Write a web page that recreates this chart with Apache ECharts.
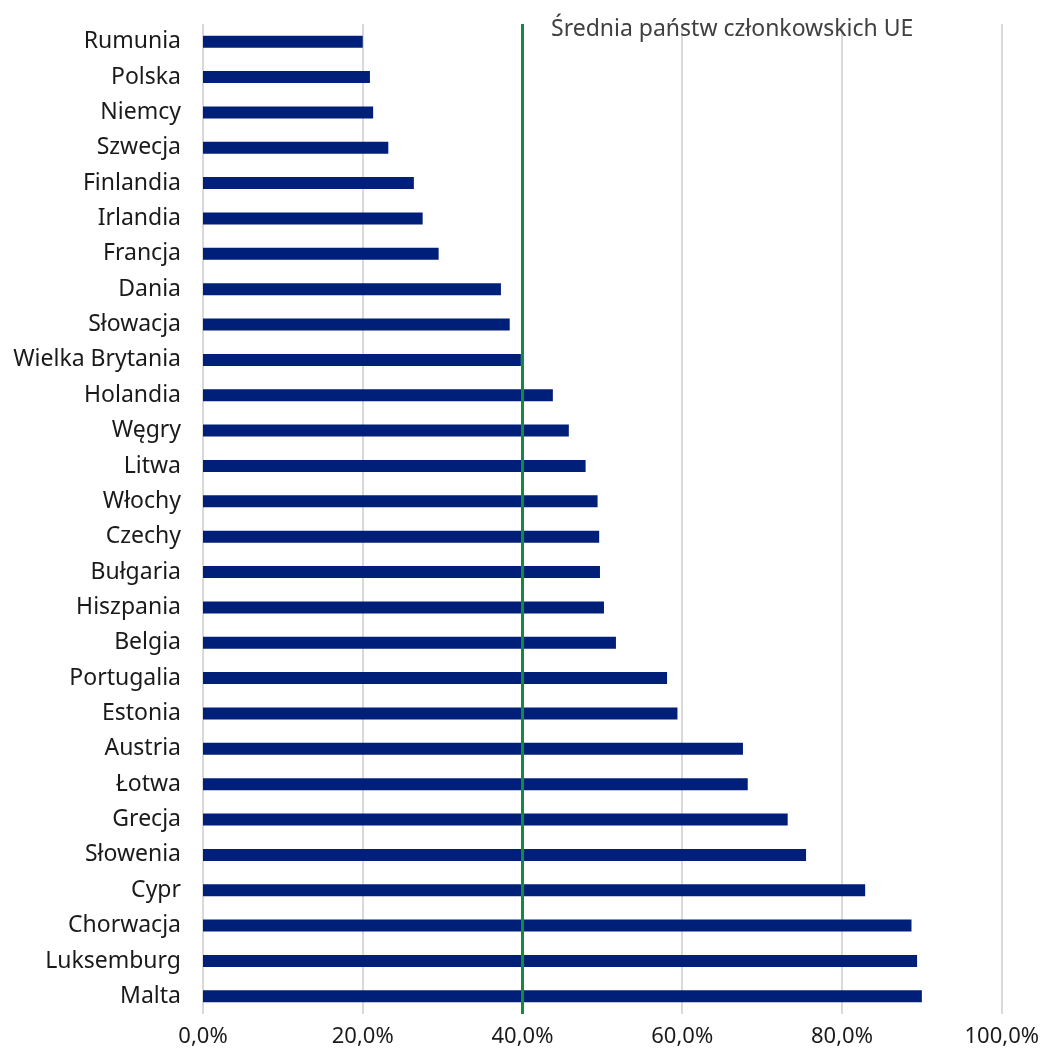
<!DOCTYPE html>
<html>
<head>
<meta charset="utf-8">
<script src="https://cdn.jsdelivr.net/npm/echarts@6/dist/echarts.min.js"></script>
<style>html,body{margin:0;padding:0;background:#fff}#c{width:1042px;height:1057px}</style>
</head>
<body>
<div id="c"></div>
<script>
const categories = ["Rumunia","Polska","Niemcy","Szwecja","Finlandia","Irlandia","Francja","Dania","Słowacja","Wielka Brytania","Holandia","Węgry","Litwa","Włochy","Czechy","Bułgaria","Hiszpania","Belgia","Portugalia","Estonia","Austria","Łotwa","Grecja","Słowenia","Cypr","Chorwacja","Luksemburg","Malta"];
const values = [0.200,0.209,0.213,0.232,0.264,0.275,0.295,0.373,0.384,0.398,0.438,0.458,0.479,0.494,0.496,0.497,0.502,0.517,0.581,0.594,0.676,0.682,0.732,0.755,0.829,0.887,0.894,0.900];
const euAverage = 0.40;
const averageLabel = "Średnia państw członkowskich UE";
const xTicks = [0,0.2,0.4,0.6,0.8,1.0];

const chart = echarts.init(document.getElementById('c'));
const font = "'Noto Sans', 'Open Sans', sans-serif";
chart.setOption({
  animation: false,
  title: {
    text: averageLabel,
    left: 546, top: 13,
    textStyle: {fontFamily: font, fontSize: 23, fontWeight: 'normal', color: '#404040'}
  },
  grid: {left: 203, right: 40, top: 24, bottom: 43, containLabel: false},
  xAxis: {
    type: 'value', min: 0, max: 1, interval: 0.2,
    axisLine: {show: false}, axisTick: {show: false},
    axisLabel: {
      fontFamily: font, fontSize: 22, color: '#1a1a1a', margin: 12,
      formatter: v => (v*100).toFixed(1).replace('.', ',') + '%'
    },
    splitLine: {show: true, lineStyle: {color: '#d9d9d9', width: 2}}
  },
  yAxis: {
    type: 'category', data: categories, inverse: true,
    axisLine: {show: false}, axisTick: {show: false},
    axisLabel: {fontFamily: font, fontSize: 23, color: '#1a1a1a', margin: 22}
  },
  series: [{
    type: 'bar', data: values, barWidth: 12,
    itemStyle: {color: '#001f78'},
    markLine: {
      silent: true, symbol: ['none','none'],
      label: {show: false},
      lineStyle: {color: '#118a42', width: 3, type: 'solid'},
      data: [{xAxis: euAverage}]
    }
  }]
});
</script>
</body>
</html>
